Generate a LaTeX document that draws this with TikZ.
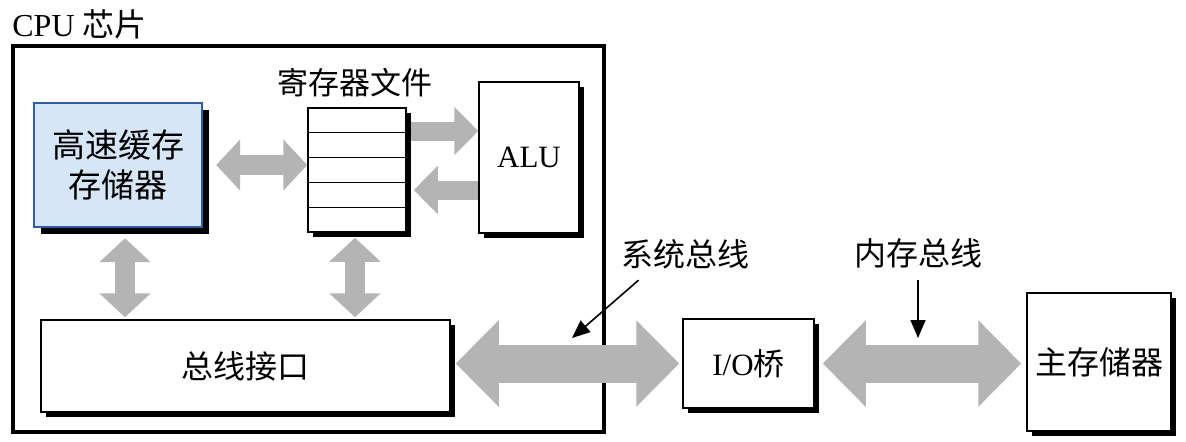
\documentclass[tikz,border=0pt]{standalone}
\usepackage{fontspec}
\setmainfont{Liberation Serif}
\newfontfamily\cjk{Noto Sans CJK SC}
\usetikzlibrary{arrows.meta,shadows,calc}

\definecolor{cacheblue}{HTML}{D6E6F6}
\definecolor{cacheedge}{HTML}{2F5E9E}
\definecolor{busgray}{HTML}{B4B4B4}

\tikzset{
  blackshade/.style={drop shadow={shadow xshift=#1, shadow yshift=-#1, fill=black, opacity=1}},
  blackshade/.default=2.5pt,
  unit/.style={draw, line width=0.75pt, fill=white, inner sep=0pt},
  lbl/.style={font=\fontsize{16}{20}\selectfont\cjk, inner sep=0pt},
  latin/.style={font=\fontsize{15.5}{18}\selectfont},
  bus/.style={draw=busgray, line width=10pt, arrows={Triangle[length=12pt,width=25pt]-Triangle[length=12pt,width=25pt]}},
  busone/.style={draw=busgray, line width=9.5pt, arrows={-Triangle[length=12pt,width=23.5pt]}},
  bigbus/.style={draw=busgray, line width=19pt, arrows={Triangle[length=21.5pt,width=42pt]-Triangle[length=21.5pt,width=42pt]}},
  pointer/.style={draw, line width=0.8pt, arrows={-Triangle[length=9pt,width=7.5pt]}},
}

\begin{document}
\begin{tikzpicture}[x=0.5pt, y=-0.5pt]
\path[use as bounding box, fill=white] (0,0) rectangle (1186,441);

% CPU chip
\node (cpulabel) [anchor=west, inner sep=0pt, font=\fontsize{16}{18}\selectfont] at (12,24) {CPU {\cjk 芯片}};
\node (cpu) [draw, line width=1.75pt, minimum width=295.5pt, minimum height=193pt] at (308.5,239) {};

\node (cache) [unit, blackshade=3.5pt, draw=cacheedge, line width=1.2pt, fill=cacheblue, minimum width=84pt, minimum height=62pt, align=center, lbl, font=\fontsize{16.5}{20}\selectfont\cjk] at (118,165) {高速缓存\\存储器};
\node (regfile) [unit, blackshade, minimum width=49pt, minimum height=62pt] at (357,170) {};
\node (reglabel) [lbl, font=\fontsize{15.5}{20}\selectfont\cjk] at (355,83) {寄存器文件};
\node (alu) [unit, blackshade, minimum width=50pt, minimum height=75.5pt, latin] at (529,157.5) {ALU};
\node (busif) [unit, blackshade, minimum width=204.5pt, minimum height=46pt, lbl] at (245.5,366) {总线接口};

\foreach \i in {1,...,4}
  \draw[line width=0.75pt] ($(regfile.north west)!\i/5!(regfile.south west)$) -- ($(regfile.north east)!\i/5!(regfile.south east)$);

% outside the chip
\node (iobridge) [unit, blackshade, minimum width=65.5pt, minimum height=44.5pt, latin] at (748.5,363.5) {I/O{\cjk 桥}};
\node (mainmem) [unit, blackshade, minimum width=72pt, minimum height=69pt, lbl] at (1099,362) {主存储器};
\node (sysbuslabel) [lbl] at (685,254) {系统总线};
\node (membuslabel) [lbl] at (918,253) {内存总线};
\coordinate (sysbustip) at (572,338);
\coordinate (membustip) at (918,338);

% buses
\draw[bus, shorten <=6.5pt] (cache.east) -- (cache.east -| regfile.west);
\draw[bus, shorten <=5pt, shorten >=1pt] ([xshift=3.5pt]cache.south) -- ([xshift=3.5pt]cache.south |- busif.north);
\draw[bus, shorten <=2.5pt, shorten >=1pt] ([xshift=-1pt]regfile.south) -- ([xshift=-1pt]regfile.south |- busif.north);
\draw[busone, shorten <=2pt] ([yshift=13.25pt]alu.west -| regfile.east) -- ([yshift=13.25pt]alu.west);
\draw[busone, shorten >=3.5pt] ([yshift=-16.25pt]alu.west) -- ([yshift=-16.25pt]alu.west -| regfile.east);
\draw[bigbus, shorten <=2.5pt, shorten >=1.5pt] (iobridge.west -| busif.east) -- (iobridge.west);
\draw[bigbus, shorten <=4pt, shorten >=2.5pt] (iobridge.east) -- (iobridge.east -| mainmem.west);

% pointers
\draw[pointer] ([xshift=9pt, yshift=-5.5pt]sysbuslabel.south west) -- (sysbustip);
\draw[pointer, shorten <=6pt] (membuslabel.south) -- (membustip);
\end{tikzpicture}
\end{document}
